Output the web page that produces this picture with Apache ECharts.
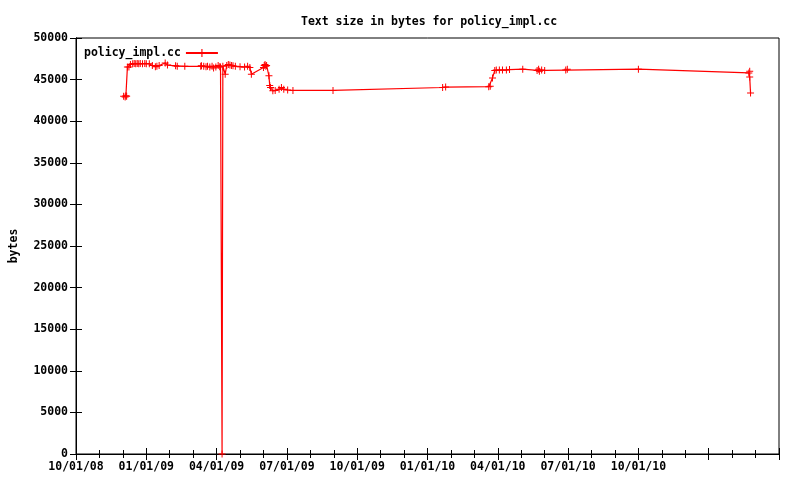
<!DOCTYPE html>
<html>
<head>
<meta charset="utf-8">
<script src="https://cdn.jsdelivr.net/npm/echarts@6/dist/echarts.min.js"></script>
<style>html,body{margin:0;padding:0;background:#fff}#c{width:800px;height:480px}</style>
</head>
<body>
<div id="c"></div>
<script>
var dates = [
"2008-12-02","2008-12-04","2008-12-05","2008-12-06","2008-12-07","2008-12-09","2008-12-11","2008-12-14",
"2008-12-16","2008-12-18","2008-12-20","2008-12-22","2008-12-24","2008-12-27","2008-12-30","2009-01-01",
"2009-01-05","2009-01-09","2009-01-13","2009-01-15","2009-01-18","2009-01-26","2009-01-29","2009-02-08",
"2009-02-10","2009-02-19","2009-03-11","2009-03-12","2009-03-15","2009-03-18","2009-03-20","2009-03-23",
"2009-03-26","2009-03-28","2009-03-31","2009-04-03","2009-04-05","2009-04-06","2009-04-08","2009-04-09",
"2009-04-12","2009-04-14","2009-04-16","2009-04-18","2009-04-20","2009-04-22","2009-04-25","2009-05-01",
"2009-05-07","2009-05-11","2009-05-14","2009-05-16","2009-06-01","2009-06-02","2009-06-03","2009-06-04",
"2009-06-05","2009-06-08","2009-06-09","2009-06-10","2009-06-13","2009-06-16","2009-06-21","2009-06-24",
"2009-06-27","2009-07-02","2009-07-09","2009-08-31","2010-01-21","2010-01-25","2010-03-20","2010-03-22",
"2010-03-25","2010-03-28","2010-03-30","2010-04-03","2010-04-07","2010-04-12","2010-04-16","2010-05-03",
"2010-05-22","2010-05-24","2010-05-25","2010-05-28","2010-06-01","2010-06-28","2010-06-30","2010-10-01",
"2011-02-21","2011-02-22","2011-02-22","2011-02-23"
];
var bytes = [
43000,42900,43050,43000,46500,46500,46800,46900,
46950,46900,46950,46900,46950,46900,46950,46900,
46900,46700,46550,46600,46700,47000,46750,46650,
46600,46600,46600,46650,46600,46550,46600,46500,
46600,46400,46500,46700,46550,46500,0,46600,
45650,46700,46800,46750,46700,46650,46600,46550,
46500,46600,46450,45650,46450,46700,46800,46600,
46700,45450,44300,44050,43650,43700,43850,44050,
43850,43750,43700,43700,44050,44100,44150,44200,
45200,46100,46150,46150,46150,46150,46200,46250,
46100,46250,46000,46150,46100,46150,46250,46250,
45800,46000,45300,43400
];
var seriesName = "policy_impl.cc";
var titleText = "Text size in bytes for policy_impl.cc";
var yTicks = {min: 0, max: 50000, interval: 5000};
var xMonths = {min: 0, max: 30, interval: 3, lastLabel: 24}; // months since 10/01/08

function toMonths(s) {
  var p = s.split("-").map(Number);
  var dim = new Date(Date.UTC(p[0], p[1], 0)).getUTCDate();
  return (p[0] - 2008) * 12 + (p[1] - 10) + (p[2] - 1) / dim;
}
function monthLabel(v) {
  if (v > xMonths.lastLabel + 0.01) return "";
  var idx = Math.round(v) + 9;
  var yy = 2008 + Math.floor(idx / 12);
  var mm = idx % 12 + 1;
  return (mm < 10 ? "0" : "") + mm + "/01/" + String(yy).slice(2);
}
var data = dates.map(function (d, i) { return [toMonths(d), bytes[i]]; });

var FONT = "DejaVu Sans Mono";
var txt = {fontFamily: FONT, fontWeight: "bold", fontSize: 11.5, color: "#000"};
var plus = "path://M3,0H4V3H7V4H4V7H3V4H0V3H3Z";

var chart = echarts.init(document.getElementById("c"), null, {renderer: "canvas"});
chart.setOption({
  animation: false,
  backgroundColor: "#fff",
  title: {text: titleText, left: 296, top: 11, textStyle: Object.assign({}, txt)},
  legend: {
    left: 79, top: 42, align: "right", itemWidth: 32, itemHeight: 10,
    textStyle: Object.assign({}, txt), data: [seriesName]
  },
  grid: {left: 76, right: 21, top: 38, bottom: 26, show: true, borderColor: "#000", borderWidth: 1,
         containLabel: false, outerBoundsMode: "none"},
  xAxis: [{
    type: "value", min: xMonths.min, max: xMonths.max, interval: xMonths.interval,
    axisLine: {show: true, lineStyle: {color: "#000"}},
    axisTick: {show: true, inside: true, length: 6, lineStyle: {color: "#000"}},
    minorTick: {show: true, splitNumber: 3, length: 4, lineStyle: {color: "#000"}},
    splitLine: {show: false},
    axisLabel: Object.assign({margin: 7, formatter: monthLabel, showMaxLabel: true}, txt)
  }, {
    type: "value", position: "top", min: xMonths.min, max: xMonths.max, interval: xMonths.interval,
    axisLine: {show: true, lineStyle: {color: "#000"}},
    axisTick: {show: true, inside: true, length: 6, lineStyle: {color: "#000"}},
    minorTick: {show: true, splitNumber: 3, length: 4, lineStyle: {color: "#000"}},
    splitLine: {show: false}, axisLabel: {show: false}
  }],
  yAxis: [{
    type: "value", min: yTicks.min, max: yTicks.max, interval: yTicks.interval,
    name: "bytes", nameLocation: "middle", nameGap: 56, nameRotate: 90,
    nameTextStyle: Object.assign({}, txt),
    axisLine: {show: true, lineStyle: {color: "#000"}},
    axisTick: {show: true, inside: true, length: 6, lineStyle: {color: "#000"}},
    splitLine: {show: false},
    axisLabel: Object.assign({margin: 8, formatter: function (v) { return String(v); }}, txt)
  }, {
    type: "value", position: "right", min: yTicks.min, max: yTicks.max, interval: yTicks.interval,
    axisLine: {show: true, lineStyle: {color: "#000"}},
    axisTick: {show: true, inside: true, length: 6, lineStyle: {color: "#000"}},
    splitLine: {show: false}, axisLabel: {show: false}
  }],
  series: [{
    name: seriesName, type: "line", data: data, xAxisIndex: 0, yAxisIndex: 0,
    symbol: plus, symbolSize: 7, showAllSymbol: true,
    itemStyle: {color: "#ff0000"},
    lineStyle: {color: "#ff0000", width: 1.2},
    clip: false
  }]
});
</script>
</body>
</html>
